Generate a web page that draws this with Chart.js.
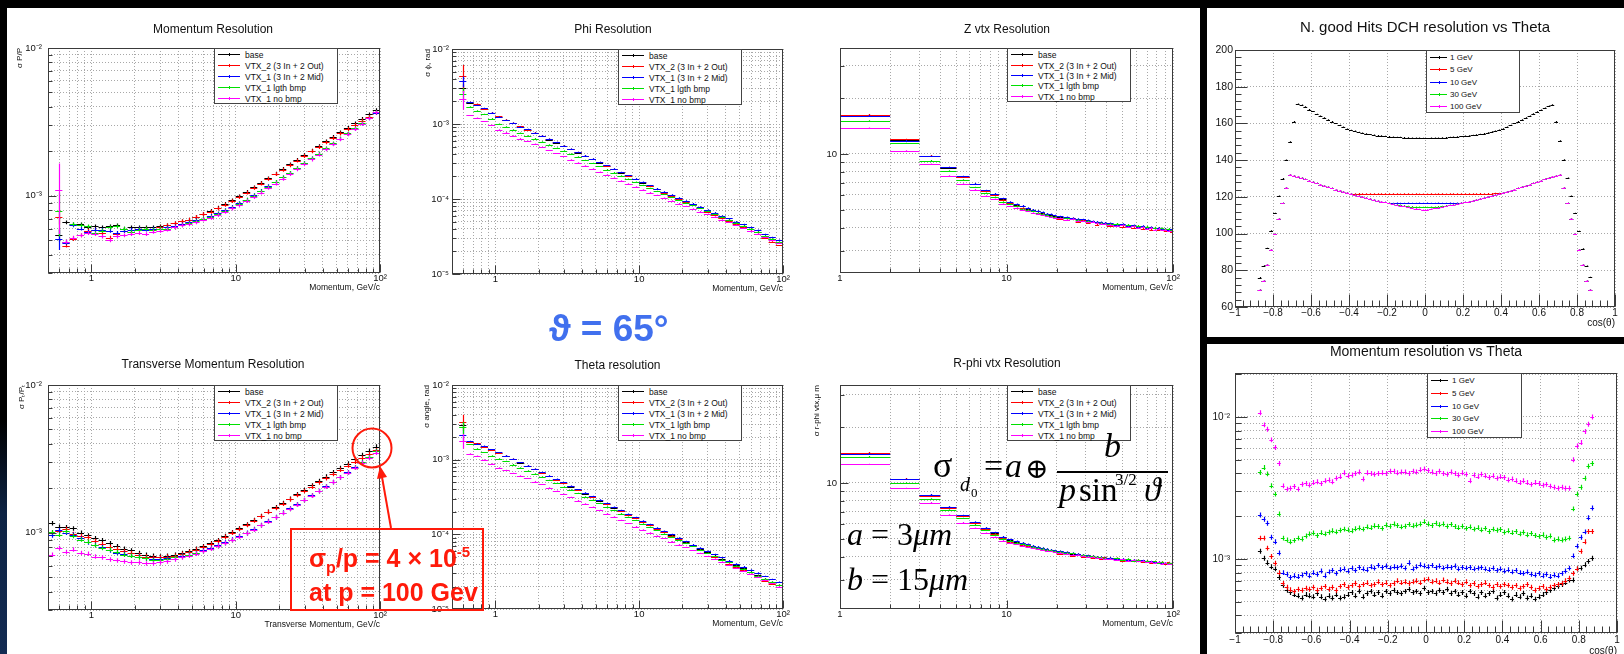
<!DOCTYPE html>
<html>
<head>
<meta charset="utf-8">
<title>Tracking resolution</title>
<script src="https://cdn.jsdelivr.net/npm/chart.js@4.4.1/dist/chart.umd.min.js"></script>
<style>
  html, body { margin: 0; padding: 0; background: #000; }
  #page { position: relative; width: 1624px; height: 654px; overflow: hidden; background: #000; font-family: "Liberation Sans", Arial, sans-serif; }
  .panel { position: absolute; background: #fff; z-index: 0; }
  canvas { position: absolute; z-index: 1; }
  .leg { position: absolute; background: #fff; border: 1px solid #444; box-sizing: border-box; z-index: 4; }
  .leg .ln { position: absolute; height: 1px; }
  .leg .tk { position: absolute; width: 1px; height: 3px; }
  .leg .lb { position: absolute; line-height: 1; white-space: nowrap; color: #111; transform: translateY(-50%); }
  .tx { position: absolute; line-height: 1; white-space: nowrap; font-family: "Liberation Serif", "DejaVu Serif", serif; color: #000; z-index: 5; }
  .note { position: absolute; line-height: 1; white-space: nowrap; font-family: "Liberation Sans", Arial, sans-serif; font-weight: bold; z-index: 5; }
</style>
</head>
<body>
<div id="page">
  <div style="position:absolute;left:0;top:420px;width:7px;height:234px;background:linear-gradient(#000,#0d2344 40%,#132b52)"></div>
  <div class="panel" style="left:7px;top:8px;width:1193px;height:646px"></div>
  <div class="panel" style="left:1207px;top:8px;width:417px;height:329px"></div>
  <div class="panel" style="left:1207px;top:344px;width:417px;height:310px"></div>

  <!-- slide annotations -->
  <div class="note" style="left:549px;top:310px;font-size:37px;color:#4170ee">ϑ = 65°</div>

  <div style="position:absolute;left:290px;top:528px;width:194px;height:83px;border:2px solid #ff1a0a;box-sizing:border-box;z-index:5"></div>
  <div class="note" style="left:309px;top:546px;font-size:25px;color:#ff1a0a">σ<span style="font-size:16px;position:relative;top:6px">p</span>/p = 4 × 10<span style="font-size:15px;position:relative;top:-10px">-5</span></div>
  <div class="note" style="left:309px;top:580px;font-size:25px;color:#ff1a0a">at p = 100 Gev</div>
  <svg style="position:absolute;left:0;top:0;z-index:5" width="1624" height="654">
    <circle cx="372" cy="448" r="19.5" fill="none" stroke="#ff1a0a" stroke-width="2"/>
    <line x1="391" y1="528" x2="382" y2="477" stroke="#ff1a0a" stroke-width="2"/>
    <polygon points="380,466 387,477 377,479" fill="#ff1a0a"/>
  </svg>

  <!-- d0 resolution formula -->
  <div class="tx" style="left:933px;top:447px;font-size:36px">σ</div>
  <div class="tx" style="left:960px;top:474px;font-size:20px;font-style:italic">d</div>
  <div class="tx" style="left:971px;top:486px;font-size:13px">0</div>
  <div class="tx" style="left:984px;top:449px;font-size:34px">=</div>
  <div class="tx" style="left:1005px;top:449px;font-size:34px;font-style:italic">a</div>
  <div class="tx" style="left:1025px;top:455px;font-size:28px">⊕</div>
  <div class="tx" style="left:1104px;top:429px;font-size:34px;font-style:italic">b</div>
  <div style="position:absolute;left:1057px;top:471px;width:111px;height:2px;background:#000;z-index:5"></div>
  <div class="tx" style="left:1059px;top:473px;font-size:34px;font-style:italic">p</div>
  <div class="tx" style="left:1079px;top:474px;font-size:33px">sin</div>
  <div class="tx" style="left:1115px;top:471px;font-size:17px">3/2</div>
  <div class="tx" style="left:1144px;top:473px;font-size:34px;font-style:italic">ϑ</div>
  <div class="tx" style="left:847px;top:518px;font-size:32px"><i>a</i> = 3<i>μm</i></div>
  <div class="tx" style="left:847px;top:563px;font-size:32px"><i>b</i> = 15<i>μm</i></div>
</div>

<script>
const FONT = '"Liberation Sans", Arial, sans-serif';
const GRID = '#a8a8a8';

// ---------- categories ----------
const seriesLabels = ['base', 'VTX_2 (3 In + 2 Out)', 'VTX_1 (3 In + 2 Mid)', 'VTX_1 lgth bmp', 'VTX_1 no bmp'];
const energyLabels = ['1 GeV', '5 GeV', '10 GeV', '30 GeV', '100 GeV'];
const rootColors = ['#000000', '#ff0000', '#0000ff', '#00e000', '#ff00ff'];

// momentum bins, GeV/c (log spaced)
const pEdges = [0.5, 0.561, 0.629, 0.706, 0.792, 0.889, 0.998, 1.12, 1.26, 1.41, 1.58, 1.78, 2.0, 2.24, 2.51, 2.82,
  3.16, 3.55, 3.98, 4.47, 5.01, 5.62, 6.31, 7.08, 7.94, 8.91, 10.0, 11.2, 12.6, 14.1, 15.8, 17.8, 20.0, 22.4, 25.1,
  28.2, 31.6, 35.5, 39.8, 44.7, 50.1, 56.2, 63.1, 70.8, 79.4, 89.1, 100];
// vertex plots bins, GeV/c
const vtxEdges = [1, 2, 3, 4, 5, 6, 7, 8, 9, 10, 11, 12, 13, 14, 15, 16, 17, 18, 19, 20, 22, 24, 26, 28, 30, 32, 34, 36,
  38, 40, 44, 48, 52, 56, 60, 64, 68, 72, 76, 80, 84, 88, 92, 96, 100];
// cos(theta) bin centres, bin width 0.02
const cosCenters = [-0.87, -0.85, -0.83, -0.81, -0.79, -0.77, -0.75, -0.73, -0.71, -0.69, -0.67, -0.65, -0.63, -0.61,
  -0.59, -0.57, -0.55, -0.53, -0.51, -0.49, -0.47, -0.45, -0.43, -0.41, -0.39, -0.37, -0.35, -0.33, -0.31, -0.29, -0.27,
  -0.25, -0.23, -0.21, -0.19, -0.17, -0.15, -0.13, -0.11, -0.09, -0.07, -0.05, -0.03, -0.01,
  0.01, 0.03, 0.05, 0.07, 0.09, 0.11, 0.13, 0.15, 0.17, 0.19, 0.21, 0.23, 0.25, 0.27, 0.29, 0.31, 0.33, 0.35, 0.37,
  0.39, 0.41, 0.43, 0.45, 0.47, 0.49, 0.51, 0.53, 0.55, 0.57, 0.59, 0.61, 0.63, 0.65, 0.67, 0.69, 0.71, 0.73, 0.75,
  0.77, 0.79, 0.81, 0.83, 0.85, 0.87];

// ---------- tick labels ----------
const pTickVals = [1, 10, 100];
const pTickText = ['1', '10', '10²'];
const resTickVals = [1e-5, 1e-4, 1e-3, 1e-2];
const resTickText = ['10⁻⁵', '10⁻⁴', '10⁻³', '10⁻²'];
const vtxTickVals = [10];
const vtxTickText = ['10'];

// ---------- Momentum Resolution, sigma P/P (x 1e-4) ----------
const momBase = [null, 5.4, 6.6, 6.4, 6.4, 6.1, 6.2, 6.1, 6.2, 6.3, 6.0, 6.1, 6.1, 6.1, 6.1, 6.2, 6.3, 6.5, 6.7, 6.9, 7.2, 7.5, 7.9, 8.3, 8.8, 9.3, 9.9, 10.6, 11.4, 12.2, 13.1, 14.1, 15.2, 16.3, 17.5, 18.8, 20.2, 21.7, 23.3, 25.0, 26.8, 28.8, 30.9, 33.1, 35.5, 38.0];
const momVtx2 = [null, 7.2, 4.6, 5.1, 5.4, 5.8, 5.9, 5.6, 5.2, 5.5, 5.8, 5.7, 6.0, 6.0, 5.9, 6.1, 6.3, 6.5, 6.7, 6.9, 7.2, 7.5, 7.8, 8.2, 8.7, 9.2, 9.8, 10.5, 11.3, 12.1, 13.0, 14.0, 15.0, 16.1, 17.3, 18.6, 20.0, 21.4, 23.0, 24.6, 26.4, 28.3, 30.2, 32.3, 34.3, 36.3];
const momVtx1 = [null, 5.1, 4.8, 6.3, 6.0, 5.7, 5.9, 5.9, 5.8, 5.6, 5.8, 5.9, 6.0, 5.9, 6.0, 6.0, 6.1, 6.2, 6.4, 6.6, 6.8, 7.0, 7.3, 7.6, 8.0, 8.4, 8.9, 9.4, 10.1, 10.8, 11.6, 12.4, 13.3, 14.3, 15.4, 16.6, 17.9, 19.3, 20.8, 22.4, 24.2, 26.2, 28.4, 30.8, 33.4, 36.5];
const momLgth = [null, 7.9, 4.9, 6.4, 6.3, 6.2, 5.6, 5.8, 6.1, 6.2, 6.0, 5.7, 5.9, 6.0, 5.9, 6.0, 6.0, 6.1, 6.3, 6.5, 6.7, 7.0, 7.2, 7.5, 7.9, 8.3, 8.8, 9.4, 10.0, 10.7, 11.5, 12.4, 13.3, 14.3, 15.4, 16.6, 17.9, 19.3, 20.9, 22.6, 24.4, 26.4, 28.6, 31.0, 33.6, 36.8];
const momNoBmp = [null, 11.0, 4.9, 5.2, 5.4, 5.6, 5.5, 5.3, 5.0, 5.3, 5.4, 5.5, 5.6, 5.5, 5.7, 5.8, 5.9, 6.1, 6.3, 6.4, 6.6, 6.9, 7.1, 7.4, 7.8, 8.2, 8.6, 9.2, 9.8, 10.5, 11.3, 12.1, 13.0, 14.0, 15.1, 16.3, 17.6, 19.0, 20.6, 22.3, 24.1, 26.1, 28.3, 30.7, 33.4, 36.6];
const momFirstErr = [0.5, 0.8, 0.8, 2.6, 5.5];

// ---------- Transverse Momentum Resolution, sigma Pt/Pt (x 1e-4) ----------
const ptBase = [11.6, 11.0, 10.9, 10.7, 10.0, 9.6, 9.2, 8.9, 8.5, 8.1, 7.8, 7.6, 7.3, 7.1, 7.0, 6.9, 7.0, 7.1, 7.3, 7.5, 7.8, 8.1, 8.5, 8.9, 9.5, 10.1, 10.7, 11.4, 12.2, 13.0, 13.9, 14.9, 15.9, 17.0, 18.2, 19.5, 20.9, 22.4, 24.0, 25.7, 27.5, 29.4, 31.4, 33.6, 35.9, 38.3];
const ptVtx2 = [10.0, 10.3, 10.6, 9.8, 9.5, 9.3, 8.8, 8.4, 8.0, 7.8, 7.5, 7.3, 7.1, 6.9, 6.8, 6.8, 6.9, 7.0, 7.2, 7.4, 7.7, 8.0, 8.4, 8.8, 9.4, 10.0, 10.6, 11.3, 12.1, 12.9, 13.8, 14.7, 15.7, 16.8, 18.0, 19.2, 20.5, 21.9, 23.4, 25.0, 26.7, 28.5, 30.3, 32.2, 34.2, 36.2];
const ptVtx1 = [9.6, 10.4, 10.0, 9.7, 9.2, 8.6, 8.3, 8.0, 7.6, 7.3, 7.2, 7.0, 6.9, 6.7, 6.6, 6.6, 6.7, 6.8, 7.0, 7.1, 7.3, 7.6, 7.9, 8.2, 8.6, 9.0, 9.5, 10.0, 10.6, 11.3, 12.0, 12.8, 13.7, 14.6, 15.6, 16.7, 17.9, 19.2, 20.6, 22.1, 23.8, 25.6, 27.7, 30.0, 32.6, 35.6];
const ptLgth = [10.1, 9.7, 10.2, 9.5, 9.0, 8.7, 8.2, 7.9, 7.7, 7.4, 7.1, 7.0, 6.8, 6.7, 6.5, 6.5, 6.6, 6.8, 6.9, 7.1, 7.3, 7.5, 7.8, 8.1, 8.5, 8.9, 9.4, 9.9, 10.5, 11.2, 11.9, 12.7, 13.6, 14.5, 15.5, 16.6, 17.8, 19.1, 20.5, 22.0, 23.7, 25.5, 27.6, 29.9, 32.5, 35.5];
const ptNoBmp = [7.1, 7.9, 7.4, 7.7, 7.3, 7.2, 6.9, 6.8, 6.6, 6.5, 6.4, 6.3, 6.3, 6.2, 6.2, 6.3, 6.4, 6.6, 6.8, 7.0, 7.2, 7.5, 7.8, 8.1, 8.5, 8.9, 9.4, 9.9, 10.5, 11.2, 11.9, 12.7, 13.6, 14.5, 15.5, 16.6, 17.8, 19.1, 20.5, 22.0, 23.7, 25.5, 27.5, 29.7, 32.1, 34.8];

// ---------- Phi Resolution, rad (x 1e-5) ----------
const phiBase = [null, 300, 190, 180, 160, 140, 124, 113, 102, 92, 84, 76, 69, 62, 56, 51, 46, 41.5, 37.5, 34, 30.5, 27.5, 25, 22.5, 20.3, 18.3, 16.5, 15, 13.6, 12.3, 11.2, 10.2, 9.3, 8.5, 7.7, 7.0, 6.4, 5.8, 5.3, 4.85, 4.4, 4.0, 3.65, 3.2, 2.9, 2.6];
const phiVtx2 = [null, 440, 195, 185, 158, 142, 126, 114, 103, 93, 84, 77, 70, 63, 57, 51, 46, 42, 38, 34, 30.8, 27.8, 25, 22.6, 20.4, 18.4, 16.6, 15, 13.5, 12.2, 11.0, 10.0, 9.1, 8.3, 7.5, 6.8, 6.2, 5.6, 5.1, 4.6, 4.2, 3.8, 3.45, 3.05, 2.7, 2.4];
const phiVtx1 = [null, 370, 195, 178, 162, 141, 125, 112, 103, 92, 85, 76, 70, 63, 57, 51, 46.5, 42, 38, 34.5, 31, 28, 25.3, 22.8, 20.6, 18.6, 16.8, 15.2, 13.8, 12.5, 11.4, 10.4, 9.5, 8.7, 7.9, 7.2, 6.6, 6.0, 5.5, 5.0, 4.6, 4.2, 3.85, 3.4, 3.1, 2.85];
const phiLgth = [null, 250, 170, 150, 135, 118, 100, 92, 84, 76, 70, 64, 58, 53, 48, 44, 40, 36.5, 33, 30, 27.2, 24.7, 22.5, 20.4, 18.5, 16.8, 15.3, 13.9, 12.7, 11.6, 10.6, 9.7, 8.9, 8.2, 7.5, 6.9, 6.3, 5.8, 5.3, 4.85, 4.4, 4.0, 3.65, 3.25, 2.95, 2.7];
const phiNoBmp = [null, 215, 130, 120, 108, 96, 84, 77, 70, 64, 59, 54, 49, 44.5, 40.5, 37, 33.5, 30.5, 27.8, 25.3, 23, 21, 19.2, 17.5, 16, 14.6, 13.3, 12.2, 11.2, 10.3, 9.5, 8.7, 8.0, 7.4, 6.8, 6.3, 5.8, 5.3, 4.9, 4.5, 4.1, 3.75, 3.45, 3.1, 2.8, 2.6];
const phiFirstErr = [40, 170, 60, 50, 60];

// ---------- Theta resolution, rad (x 1e-5) ----------
const thBase = [null, 290, 172, 162, 150, 135, 123, 112, 101, 91, 82, 74, 67, 60, 54, 48.5, 43.5, 39, 35, 31.5, 28.3, 25.4, 22.8, 20.5, 18.4, 16.5, 14.8, 13.3, 12.0, 10.8, 9.7, 8.8, 7.9, 7.1, 6.4, 5.8, 5.2, 4.7, 4.25, 3.85, 3.5, 3.15, 2.85, 2.55, 2.3, 2.1];
const thVtx2 = [null, 320, 175, 165, 150, 136, 124, 113, 102, 92, 83, 75, 67, 60, 54, 49, 44, 39.5, 35.5, 31.8, 28.5, 25.5, 22.9, 20.5, 18.4, 16.5, 14.8, 13.3, 11.9, 10.7, 9.6, 8.6, 7.7, 6.9, 6.2, 5.6, 5.0, 4.5, 4.05, 3.65, 3.3, 2.95, 2.65, 2.4, 2.15, 1.95];
const thVtx1 = [null, 215, 176, 164, 152, 137, 125, 113, 102, 92, 83, 75, 68, 61, 55, 49.5, 44.5, 40, 36, 32.3, 29, 26, 23.3, 21, 18.8, 16.9, 15.2, 13.7, 12.3, 11.1, 10.0, 9.0, 8.1, 7.3, 6.6, 6.0, 5.4, 4.9, 4.45, 4.05, 3.7, 3.35, 3.05, 2.75, 2.5, 2.3];
const thLgth = [null, 270, 160, 140, 125, 113, 103, 95, 86, 78, 71, 65, 59, 53, 48, 43.5, 39.5, 35.5, 32, 29, 26, 23.4, 21, 19, 17.1, 15.4, 13.9, 12.5, 11.3, 10.2, 9.3, 8.4, 7.6, 6.9, 6.2, 5.6, 5.1, 4.6, 4.2, 3.8, 3.45, 3.1, 2.8, 2.55, 2.3, 2.1];
const thNoBmp = [null, 180, 120, 112, 100, 88, 78, 72, 66, 61, 56, 51, 46.5, 42, 38, 34.5, 31.3, 28.3, 25.6, 23.2, 21, 19, 17.2, 15.5, 14, 12.7, 11.5, 10.5, 9.6, 8.8, 8.0, 7.3, 6.7, 6.1, 5.6, 5.1, 4.7, 4.3, 3.9, 3.55, 3.25, 2.95, 2.7, 2.45, 2.2, 2.0];
const thFirstErr = [30, 80, 40, 50, 40];

// ---------- Z vtx Resolution (um) ----------
const zBase = [16.2, 11.9, 9.76, 8.4, 7.54, 6.86, 6.33, 6.05, 5.69, 5.45, 5.3, 5.2, 5.05, 4.95, 4.9, 4.8, 4.75, 4.7, 4.62, 4.58, 4.52, 4.47, 4.42, 4.4, 4.35, 4.3, 4.28, 4.25, 4.22, 4.2, 4.17, 4.15, 4.1, 4.08, 4.06, 4.05, 4.02, 4.0, 3.98, 3.97, 3.95, 3.93, 3.92, 3.9];
const zVtx2 = [16.3, 12.0, 9.8, 8.45, 7.5, 6.85, 6.3, 6.0, 5.65, 5.4, 5.25, 5.1, 5.0, 4.92, 4.82, 4.75, 4.65, 4.6, 4.55, 4.45, 4.4, 4.5, 4.3, 4.38, 4.25, 4.3, 4.15, 4.24, 4.2, 4.1, 4.15, 4.05, 4.12, 3.98, 4.05, 3.95, 4.02, 3.9, 3.96, 3.88, 3.95, 3.85, 3.9, 3.8];
const zVtx1 = [16.1, 11.8, 9.7, 8.45, 7.55, 6.9, 6.35, 6.1, 5.75, 5.5, 5.35, 5.25, 5.1, 5.0, 4.92, 4.85, 4.75, 4.72, 4.65, 4.6, 4.55, 4.5, 4.45, 4.42, 4.38, 4.33, 4.3, 4.27, 4.25, 4.22, 4.15, 4.18, 4.1, 4.12, 4.05, 4.08, 4.0, 4.02, 3.98, 3.99, 3.94, 3.95, 3.9, 3.92];
const zLgth = [15.1, 11.4, 9.2, 8.1, 7.24, 6.6, 6.13, 5.83, 5.5, 5.35, 5.2, 5.05, 4.98, 4.9, 4.8, 4.72, 4.68, 4.6, 4.55, 4.5, 4.48, 4.42, 4.4, 4.35, 4.33, 4.28, 4.25, 4.24, 4.2, 4.18, 4.2, 4.12, 4.15, 4.08, 4.1, 4.02, 4.05, 3.98, 4.0, 3.95, 3.97, 3.92, 3.94, 3.9];
const zNoBmp = [13.8, 10.4, 8.8, 7.6, 6.88, 6.4, 5.93, 5.69, 5.37, 5.2, 5.1, 5.0, 4.9, 4.8, 4.74, 4.66, 4.6, 4.55, 4.5, 4.48, 4.4, 4.45, 4.35, 4.33, 4.28, 4.3, 4.22, 4.2, 4.18, 4.15, 4.08, 4.12, 4.02, 4.06, 3.98, 4.02, 3.95, 3.98, 3.9, 3.94, 3.86, 3.9, 3.84, 3.85];

// ---------- R-phi vtx Resolution (um) ----------
const rpBase = [14.5, 10.5, 8.61, 7.39, 6.63, 6.1, 5.69, 5.35, 5.09, 4.92, 4.8, 4.72, 4.62, 4.55, 4.48, 4.43, 4.38, 4.34, 4.3, 4.26, 4.2, 4.15, 4.12, 4.08, 4.05, 4.02, 3.99, 3.96, 3.94, 3.92, 3.89, 3.86, 3.84, 3.82, 3.8, 3.78, 3.77, 3.75, 3.73, 3.72, 3.71, 3.7, 3.69, 3.68];
const rpVtx2 = [14.6, 10.55, 8.55, 7.35, 6.6, 6.05, 5.65, 5.3, 5.02, 4.82, 4.72, 4.6, 4.55, 4.45, 4.42, 4.35, 4.32, 4.28, 4.22, 4.15, 4.22, 4.05, 4.1, 3.98, 4.06, 3.95, 4.0, 3.9, 3.96, 3.86, 3.92, 3.8, 3.86, 3.76, 3.83, 3.72, 3.8, 3.7, 3.76, 3.68, 3.74, 3.66, 3.72, 3.66];
const rpVtx1 = [14.4, 10.45, 8.65, 7.42, 6.68, 6.15, 5.72, 5.4, 5.12, 4.95, 4.85, 4.75, 4.66, 4.58, 4.52, 4.46, 4.4, 4.36, 4.32, 4.28, 4.22, 4.18, 4.13, 4.1, 4.06, 4.03, 4.0, 3.98, 3.95, 3.94, 3.88, 3.9, 3.84, 3.85, 3.79, 3.81, 3.75, 3.77, 3.72, 3.74, 3.69, 3.71, 3.66, 3.68];
const rpLgth = [13.9, 10.0, 8.2, 7.15, 6.44, 5.95, 5.55, 5.25, 5.0, 4.88, 4.76, 4.68, 4.6, 4.52, 4.46, 4.42, 4.36, 4.32, 4.28, 4.25, 4.2, 4.16, 4.1, 4.08, 4.03, 4.02, 3.97, 3.96, 3.92, 3.9, 3.92, 3.85, 3.88, 3.8, 3.83, 3.76, 3.79, 3.73, 3.76, 3.7, 3.73, 3.68, 3.7, 3.67];
const rpNoBmp = [12.6, 9.36, 7.83, 6.71, 6.1, 5.69, 5.35, 5.09, 4.88, 4.75, 4.65, 4.58, 4.5, 4.44, 4.38, 4.34, 4.3, 4.26, 4.22, 4.2, 4.15, 4.1, 4.08, 4.03, 4.0, 3.98, 3.94, 3.93, 3.9, 3.88, 3.84, 3.86, 3.8, 3.82, 3.76, 3.79, 3.72, 3.75, 3.7, 3.72, 3.66, 3.69, 3.64, 3.66];

// ---------- N. good Hits DCH vs cos(theta) ----------
const hits1 = [76, 82.5, 92, 101.5, 111, 120.5, 130, 140, 150, 161, 170.5, 170, 169, 167.5, 166.5, 165, 164, 163, 162, 161, 160, 159, 158, 157, 156.3, 155.8, 155.2, 154.8, 154.4, 154, 153.7, 153.4, 153.2, 153, 152.8, 152.6, 152.5, 152.4, 152.3, 152.2, 152.1, 152, 152, 151.9,
  151.8, 152, 152.1, 152.1, 152.2, 152.3, 152.5, 152.6, 152.7, 152.9, 153.1, 153.3, 153.5, 153.8, 154.1, 154.5, 154.9, 155.4, 155.9, 156.4, 157.1, 158, 159, 160, 161, 162, 163, 164, 165.2, 166.3, 167.3, 168.4, 169.4, 170.2, 161, 150.5, 140.2, 130.3, 120.4, 111, 101.3, 91.7, 82.3, 76.2];
const hits5 = [69.3, 74.3, 83, 91.2, 99.6, 108, 116.5, 125, 132, 131.5, 131, 130.2, 129.5, 128.8, 128.1, 127.4, 126.7, 126, 125.3, 124.7, 124, 123.4, 122.8, 122.2, 121.8, 121.7, 121.8, 121.7, 121.6, 121.7, 121.7, 121.6, 121.7, 121.6, 121.6, 121.7, 121.6, 121.5, 121.6, 121.6, 121.5, 121.6, 121.5, 121.5,
  121.5, 121.6, 121.5, 121.6, 121.6, 121.5, 121.6, 121.7, 121.6, 121.6, 121.7, 121.6, 121.7, 121.7, 121.8, 121.7, 121.8, 121.8, 121.9, 121.9, 122.2, 122.8, 123.4, 124, 124.7, 125.3, 126, 126.7, 127.4, 128.1, 128.8, 129.5, 130.2, 131, 131.5, 132, 125, 116.5, 108, 99.6, 91.2, 83, 74.3, 69.3];
const hits10 = [69.3, 74.3, 83, 91.2, 99.6, 108, 116.5, 125, 132, 131.5, 131, 130.2, 129.5, 128.8, 128.1, 127.4, 126.7, 126, 125.3, 124.7, 124, 123.4, 122.8, 122.2, 121.6, 121, 120.5, 120, 119.4, 118.9, 118.4, 117.9, 117.4, 117, 116.5, 116.5, 116.6, 116.5, 116.5, 116.6, 116.5, 116.5, 116.6, 116.5,
  116.6, 116.5, 116.5, 116.6, 116.5, 116.5, 116.6, 116.5, 116.6, 116.7, 117, 117.4, 117.9, 118.4, 118.9, 119.4, 120, 120.5, 121, 121.6, 122.2, 122.8, 123.4, 124, 124.7, 125.3, 126, 126.7, 127.4, 128.1, 128.8, 129.5, 130.2, 131, 131.5, 132, 125, 116.5, 108, 99.6, 91.2, 83, 74.3, 69.3];
const hits30 = [69.3, 74.3, 83, 91.2, 99.6, 108, 116.5, 125, 132, 131.5, 131, 130.2, 129.5, 128.8, 128.1, 127.4, 126.7, 126, 125.3, 124.7, 124, 123.4, 122.8, 122.2, 121.6, 121, 120.5, 120, 119.4, 118.9, 118.4, 117.9, 117.4, 117, 116.6, 116.2, 115.8, 115.5, 115.2, 114.9, 114.7, 114.5, 114.4, 114.3,
  114.3, 114.4, 114.5, 114.7, 114.9, 115.2, 115.5, 115.8, 116.2, 116.6, 117, 117.4, 117.9, 118.4, 118.9, 119.4, 120, 120.5, 121, 121.6, 122.2, 122.8, 123.4, 124, 124.7, 125.3, 126, 126.7, 127.4, 128.1, 128.8, 129.5, 130.2, 131, 131.5, 132, 125, 116.5, 108, 99.6, 91.2, 83, 74.3, 69.3];
const hits100 = [69.3, 74.3, 83, 91.2, 99.6, 108, 116.5, 125, 132, 131.5, 131, 130.2, 129.5, 128.8, 128.1, 127.4, 126.7, 126, 125.3, 124.7, 124, 123.4, 122.8, 122.2, 121.6, 121, 120.5, 120, 119.4, 118.9, 118.4, 117.9, 117.4, 117, 116.5, 116.1, 115.6, 115.2, 114.8, 114.4, 114, 113.6, 113.2, 112.8,
  112.9, 113.3, 113.7, 114.1, 114.5, 114.9, 115.3, 115.7, 116.1, 116.6, 117, 117.4, 117.9, 118.4, 118.9, 119.4, 120, 120.5, 121, 121.6, 122.2, 122.8, 123.4, 124, 124.7, 125.3, 126, 126.7, 127.4, 128.1, 128.8, 129.5, 130.2, 131, 131.5, 132, 125, 116.5, 108, 99.6, 91.2, 83, 74.3, 69.3];

// ---------- Momentum resolution vs cos(theta) (x 1e-4) ----------
const mres1 = [11.3, 10.1, 9.4, 8.8, 8.5, 7.4, 6.5, 6.0, 5.8, 5.6, 5.5, 5.3, 5.6, 5.5, 5.4, 5.7, 5.4, 5.2, 5.5, 5.3, 5.6, 5.3, 5.4, 5.6, 5.8, 5.5, 5.9, 5.4, 5.7, 5.9, 5.6, 5.8, 5.5, 5.9, 5.7, 6.0, 5.8, 5.7, 5.9, 6.1, 5.8, 5.9, 5.7, 6.2,
  5.8, 5.9, 5.7, 6.0, 5.8, 6.1, 5.7, 5.9, 5.6, 5.8, 5.5, 5.9, 5.7, 5.4, 5.8, 5.5, 5.7, 5.9, 5.3, 5.6, 5.8, 5.5, 5.2, 5.6, 5.4, 5.7, 5.3, 5.5, 5.2, 5.4, 5.6, 5.8, 6.0, 6.2, 6.4, 6.6, 6.8, 7.1, 7.1, 8.5, 8.6, 9.1, 9.6, 10.1];
const mres5 = [14, 14, 11.9, 10.4, 9.3, 8.0, 6.7, 6.3, 6.05, 5.9, 6.1, 6.0, 6.2, 6.1, 6.3, 6.0, 6.2, 6.4, 6.1, 6.3, 6.0, 6.4, 6.6, 6.3, 6.5, 6.7, 6.4, 6.6, 6.8, 6.5, 6.6, 6.9, 6.6, 6.8, 6.5, 6.7, 7.0, 6.8, 6.9, 6.7, 6.9, 7.0, 6.8, 7.1,
  7.2, 6.9, 7.0, 6.8, 7.1, 6.9, 6.7, 7.0, 6.8, 6.6, 6.9, 6.5, 6.7, 6.4, 6.6, 6.8, 6.5, 6.3, 6.6, 6.4, 6.6, 6.5, 6.3, 6.5, 6.2, 6.4, 6.6, 6.3, 6.0, 6.2, 6.4, 6.1, 6.3, 6.5, 6.6, 6.7, 7.0, 7.3, 7.9, 8.5, 11.3, 13.2, 15.6, 15.6];
const mres10 = [20.4, 19, 17.8, 14.2, 13.2, 11, 8.0, 7.8, 7.4, 7.6, 7.5, 7.7, 7.9, 7.6, 8.0, 7.8, 8.2, 7.6, 8.1, 8.3, 7.9, 8.4, 8.5, 8.2, 8.6, 8.3, 8.7, 8.5, 8.4, 8.8, 8.6, 9.0, 8.7, 8.9, 8.6, 8.8, 8.7, 8.9, 8.6, 9.4, 8.5, 8.8, 9.1, 8.9,
  8.8, 9.0, 8.7, 8.9, 8.6, 8.8, 8.7, 8.9, 8.5, 8.7, 8.6, 8.7, 8.5, 8.6, 8.7, 8.5, 8.4, 8.6, 8.3, 8.5, 8.2, 8.4, 8.1, 8.3, 8.0, 7.9, 8.1, 7.8, 7.7, 7.9, 7.6, 7.8, 7.5, 7.7, 7.6, 7.9, 8.2, 8.6, 10.5, 12.3, 14.2, 15.5, 19.5, 22.8];
const mres30 = [40.6, 44, 39.7, 32.8, 28.6, 20.7, 14, 13.6, 13.2, 13.5, 14, 13.8, 14.5, 15, 15.2, 14.6, 15.3, 15, 15.4, 15.8, 15.5, 15.9, 16.2, 16.0, 15.8, 16.3, 16.5, 16.2, 16.8, 16.6, 17.1, 16.9, 16.4, 17.3, 17.0, 17.6, 17.2, 16.8, 17.0, 17.5, 17.1, 17.3, 17.6, 18.3,
  17.6, 17.2, 17.8, 17.4, 17.6, 17.0, 17.5, 16.9, 16.6, 17.0, 16.4, 16.8, 16.2, 16.6, 16.0, 16.4, 15.6, 16.2, 15.9, 16.1, 15.4, 15.8, 15.3, 15.6, 15.0, 15.4, 14.8, 15.1, 14.6, 14.4, 14.8, 14.2, 14.5, 13.6, 13.8, 13.6, 13.8, 14.0, 22.5, 28.6, 32, 37, 45, 47];
const mres100 = [107, 88, 82, 69, 61, 47, 32.7, 31, 31.5, 32.4, 31, 33.6, 34, 33.2, 34.5, 35, 34, 35.5, 36, 35, 37, 38, 40.5, 38.5, 39, 40, 41, 36.5, 40.5, 40, 39.5, 40, 40.5, 40, 41.5, 41.5, 40.5, 41, 41, 40, 41.5, 41, 42.5, 43,
  42, 41, 40, 41.5, 40, 39.5, 41, 40, 39, 40.5, 39.5, 35.5, 39, 38, 39.5, 38.5, 37.5, 38.5, 37, 38, 37.5, 36, 36.5, 35.5, 34.5, 35.5, 34.5, 33.5, 34.5, 34, 33, 33.5, 32.5, 32, 31.5, 32, 31.5, 31.5, 50, 62.5, 66, 79, 89, 100];

// ---------- helpers ----------
function logGrid(min, max) {
  // grid / tick positions 1..9 x 10^n inside the axis range
  const out = [];
  for (let e = Math.floor(Math.log10(min)); e <= Math.ceil(Math.log10(max)); e++) {
    for (let m = 1; m <= 9; m++) {
      const v = m * Math.pow(10, e);
      if (v >= min * 0.9999 && v <= max * 1.0001) out.push(v);
    }
  }
  return out;
}

function binPoints(edges, vals, unit, rel, bigErr) {
  const pts = [];
  let first = true;
  vals.forEach((v, i) => {
    if (v == null) return;
    const lo = edges[i], hi = edges[i + 1], y = v * unit;
    const e = (first && bigErr != null) ? bigErr * unit : y * rel;
    first = false;
    pts.push({ x: (lo + hi) / 2, y: y, xl: lo, xh: hi, yl: Math.max(y - e, y * 0.05), yh: y + e });
  });
  return pts;
}

function cosPoints(vals, unit, rel, abs) {
  return vals.map((v, i) => {
    const c = cosCenters[i], y = v * unit;
    const e = abs != null ? abs : y * rel;
    return { x: c, y: y, xl: c - 0.01, xh: c + 0.01, yl: y - e, yh: y + e };
  });
}

function logAxis(min, max, tv, tt, pad, fs) {
  const grid = logGrid(min, max);
  return {
    type: 'logarithmic', min: min, max: max,
    afterBuildTicks: s => { s.ticks = grid.map(v => ({ value: v })); },
    ticks: {
      autoSkip: false, maxRotation: 0, padding: pad, color: '#111', font: { size: fs },
      callback: v => { const i = tv.findIndex(t => Math.abs(v / t - 1) < 1e-6); return i < 0 ? '' : tt[i]; }
    },
    grid: { color: GRID, drawTicks: false },
    border: { display: false, dash: [1, 2] }
  };
}

function linAxis(min, max, step, pad, fs, fmt) {
  return {
    type: 'linear', min: min, max: max,
    ticks: { stepSize: step, autoSkip: false, maxRotation: 0, padding: pad, color: '#111', font: { size: fs }, callback: fmt },
    grid: { color: GRID, drawTicks: false },
    border: { display: false, dash: [1, 2] }
  };
}

function cosLabel(v) {
  if (Math.abs(v) < 1e-9) return '0';
  const s = String(Math.round(Math.abs(v) * 10) / 10);
  return (v < 0 ? '−' : '') + s;
}

// error bars the ROOT way: bin-wide horizontal bar + vertical error
const rootMarks = {
  id: 'rootMarks',
  afterDatasetsDraw(chart) {
    const { ctx, chartArea: a } = chart;
    const xs = chart.scales.x, ys = chart.scales.y;
    ctx.save();
    ctx.beginPath();
    ctx.rect(a.left, a.top, a.right - a.left, a.bottom - a.top);
    ctx.clip();
    ctx.lineWidth = 1.2;
    chart.data.datasets.forEach(ds => {
      ctx.strokeStyle = ds.borderColor;
      ctx.beginPath();
      ds.data.forEach(p => {
        const y = Math.round(ys.getPixelForValue(p.y)) + 0.5;
        const x = Math.round(xs.getPixelForValue(p.x)) + 0.5;
        ctx.moveTo(xs.getPixelForValue(p.xl), y);
        ctx.lineTo(xs.getPixelForValue(p.xh), y);
        ctx.moveTo(x, ys.getPixelForValue(p.yh));
        ctx.lineTo(x, ys.getPixelForValue(p.yl));
      });
      ctx.stroke();
    });
    ctx.restore();
  }
};

// frame + inner tick marks
const rootFrame = {
  id: 'rootFrame',
  afterDraw(chart, args, opts) {
    const { ctx, chartArea: a } = chart;
    const xs = chart.scales.x, ys = chart.scales.y;
    const L = Math.round(a.left) + 0.5, R = Math.round(a.right) - 0.5;
    const T = Math.round(a.top) + 0.5, B = Math.round(a.bottom) - 0.5;
    ctx.save();
    ctx.strokeStyle = '#3a3a3a';
    ctx.lineWidth = 1;
    ctx.strokeRect(L, T, R - L, B - T);
    ctx.beginPath();
    xs.ticks.forEach(t => {
      const px = Math.round(xs.getPixelForValue(t.value)) + 0.5;
      const len = t.label ? opts.major : opts.minor;
      ctx.moveTo(px, B); ctx.lineTo(px, B - len);
    });
    ys.ticks.forEach(t => {
      const py = Math.round(ys.getPixelForValue(t.value)) + 0.5;
      const len = t.label ? opts.major : opts.minor;
      ctx.moveTo(L, py); ctx.lineTo(L + len, py);
    });
    if (opts.xMinor) {
      for (let i = 0; xs.min + i * opts.xMinor <= xs.max + 1e-9; i++) {
        const px = Math.round(xs.getPixelForValue(xs.min + i * opts.xMinor)) + 0.5;
        ctx.moveTo(px, B); ctx.lineTo(px, B - opts.minor);
      }
    }
    if (opts.yMinor) {
      for (let i = 0; ys.min + i * opts.yMinor <= ys.max + 1e-9; i++) {
        const py = Math.round(ys.getPixelForValue(ys.min + i * opts.yMinor)) + 0.5;
        ctx.moveTo(L, py); ctx.lineTo(L + opts.minor, py);
      }
    }
    ctx.stroke();
    ctx.restore();
  }
};

const page = document.getElementById('page');

function addLegend(box, labels, fs, lineLen, gap) {
  const [l, t, w, h] = box;
  const div = document.createElement('div');
  div.className = 'leg';
  div.style.cssText = 'left:' + l + 'px;top:' + t + 'px;width:' + w + 'px;height:' + h + 'px';
  labels.forEach((txt, i) => {
    const cy = Math.round((i + 0.5) * (h - 2) / labels.length);
    const ln = document.createElement('div');
    ln.className = 'ln';
    ln.style.cssText = 'left:3px;top:' + cy + 'px;width:' + lineLen + 'px;background:' + rootColors[i];
    const tk = document.createElement('div');
    tk.className = 'tk';
    tk.style.cssText = 'left:' + (3 + lineLen / 2) + 'px;top:' + (cy - 1) + 'px;background:' + rootColors[i];
    const lb = document.createElement('div');
    lb.className = 'lb';
    lb.style.cssText = 'left:' + (3 + lineLen + gap) + 'px;top:' + (cy + 0.5) + 'px;font-size:' + fs + 'px';
    lb.textContent = txt;
    div.appendChild(ln); div.appendChild(tk); div.appendChild(lb);
  });
  page.appendChild(div);
}

function makeChart(d) {
  const cv = document.createElement('canvas');
  const [l, t, w, h] = d.box;
  cv.width = w; cv.height = h;
  cv.style.left = l + 'px'; cv.style.top = t + 'px';
  page.appendChild(cv);

  const xScale = d.x;
  xScale.afterFit = s => { s.height = d.xH; };
  xScale.title = { display: true, text: d.xTitle, align: 'end', color: '#111', font: { size: d.xTitleSize }, padding: { top: 0, bottom: d.xTitlePad } };
  const yScale = d.y;
  yScale.afterFit = s => { s.width = d.yW; };
  yScale.title = { display: !!d.yTitle, text: d.yTitle || '', align: 'end', color: '#111', font: { size: 8 }, padding: { top: d.yTitlePad || 0, bottom: 0 } };

  new Chart(cv, {
    type: 'scatter',
    data: {
      datasets: d.points.map((pts, i) => ({
        label: d.labels[i], data: pts,
        borderColor: rootColors[i], backgroundColor: rootColors[i],
        pointRadius: 0, pointHoverRadius: 0, showLine: false
      }))
    },
    options: {
      responsive: false, animation: false, events: [],
      layout: { padding: 0 },
      plugins: {
        legend: { display: false }, tooltip: { enabled: false },
        title: {
          display: true, text: d.title, color: '#111',
          font: { size: d.titleSize, weight: 'normal', lineHeight: 1.2 },
          padding: { top: d.tT, bottom: d.tB }
        },
        rootFrame: { major: d.major, minor: d.minor, xMinor: d.xMinor, yMinor: d.yMinor }
      },
      scales: {
        x: xScale,
        y: yScale,
        pad: {
          type: 'linear', position: 'right', display: true,
          grid: { display: false, drawTicks: false }, border: { display: false }, ticks: { display: false },
          afterFit: s => { s.width = d.rW; }
        }
      }
    },
    plugins: [rootMarks, rootFrame]
  });
  addLegend(d.legend, d.labels, d.legendFont, d.legendLine, d.legendGap);
}

Chart.defaults.font.family = FONT;
Chart.defaults.color = '#111';

const leftCommon = { titleSize: 12, xTitleSize: 8.5, xTitlePad: 7, xH: 27, major: 8, minor: 4, labels: seriesLabels, legendFont: 8.5, legendLine: 22, legendGap: 5 };

const plots = [
  Object.assign({}, leftCommon, {
    box: [7, 8, 412, 292], yW: 41, rW: 39, tT: 14.8, tB: 10.8, yTitlePad: 8.2,
    title: 'Momentum Resolution', xTitle: 'Momentum, GeV/c', yTitle: 'σ P/P',
    x: logAxis(0.5, 100, pTickVals, pTickText, 0, 9.5), y: logAxis(3e-4, 1e-2, resTickVals, resTickText, 6, 9.5),
    points: [momBase, momVtx2, momVtx1, momLgth, momNoBmp].map((s, i) => binPoints(pEdges, s, 1e-4, 0.03, momFirstErr[i])),
    legend: [214, 48, 124, 56]
  }),
  Object.assign({}, leftCommon, {
    box: [420, 8, 386, 293], yW: 32, rW: 23, tT: 14.8, tB: 11.8, yTitlePad: 3.2,
    title: 'Phi Resolution', xTitle: 'Momentum, GeV/c', yTitle: 'σ ϕ, rad',
    x: logAxis(0.5, 100, pTickVals, pTickText, 0, 9.5), y: logAxis(1e-5, 1e-2, resTickVals, resTickText, 3, 9.5),
    points: [phiBase, phiVtx2, phiVtx1, phiLgth, phiNoBmp].map((s, i) => binPoints(pEdges, s, 1e-5, 0.015, phiFirstErr[i])),
    legend: [618, 49, 124, 56]
  }),
  Object.assign({}, leftCommon, {
    box: [812, 8, 390, 292], yW: 28, rW: 29, tT: 14.8, tB: 10.8,
    title: 'Z vtx Resolution', xTitle: 'Momentum, GeV/c', yTitle: '',
    x: logAxis(1, 100, pTickVals, pTickText, 0, 9.5), y: logAxis(2.27, 37.4, vtxTickVals, vtxTickText, 3, 9.5),
    points: [zBase, zVtx2, zVtx1, zLgth, zNoBmp].map(s => binPoints(vtxEdges, s, 1, 0.008)),
    legend: [1007, 48, 124, 54]
  }),
  Object.assign({}, leftCommon, {
    box: [7, 300, 412, 337], yW: 41, rW: 39, tT: 57.8, tB: 12.8, yTitlePad: 10.2,
    title: 'Transverse Momentum Resolution', xTitle: 'Transverse Momentum, GeV/c', yTitle: 'σ Pₜ/Pₜ',
    x: logAxis(0.5, 100, pTickVals, pTickText, 0, 9.5), y: logAxis(3e-4, 1e-2, resTickVals, resTickText, 6, 9.5),
    points: [ptBase, ptVtx2, ptVtx1, ptLgth, ptNoBmp].map(s => binPoints(pEdges, s, 1e-4, 0.035)),
    legend: [214, 385, 124, 56]
  }),
  Object.assign({}, leftCommon, {
    box: [420, 300, 395, 336], yW: 32, rW: 32, tT: 58.8, tB: 11.8, yTitlePad: 2.2,
    title: 'Theta resolution', xTitle: 'Momentum, GeV/c', yTitle: 'σ angle, rad',
    x: logAxis(0.5, 100, pTickVals, pTickText, 0, 9.5), y: logAxis(1e-5, 1e-2, resTickVals, resTickText, 3, 9.5),
    points: [thBase, thVtx2, thVtx1, thLgth, thNoBmp].map((s, i) => binPoints(pEdges, s, 1e-5, 0.015, thFirstErr[i])),
    legend: [618, 385, 124, 56]
  }),
  Object.assign({}, leftCommon, {
    box: [812, 300, 390, 336], yW: 28, rW: 29, tT: 56.8, tB: 13.8, yTitlePad: 0.2,
    title: 'R-phi vtx Resolution', xTitle: 'Momentum, GeV/c', yTitle: 'σ r-phi vtx,μ m',
    x: logAxis(1, 100, pTickVals, pTickText, 0, 9.5), y: logAxis(2.08, 33.9, vtxTickVals, vtxTickText, 3, 9.5),
    points: [rpBase, rpVtx2, rpVtx1, rpLgth, rpNoBmp].map(s => binPoints(vtxEdges, s, 1, 0.008)),
    legend: [1007, 385, 124, 56]
  }),
  {
    box: [1207, 8, 436, 329], yW: 28, rW: 28, tT: 11, tB: 13, xH: 30, titleSize: 15,
    title: 'N. good Hits DCH resolution vs Theta', xTitle: 'cos(θ)', xTitleSize: 10, xTitlePad: 8, yTitle: '',
    x: linAxis(-1, 1, 0.2, 0, 10, cosLabel), y: linAxis(60, 200, 20, 2, 10.5, v => String(v)),
    major: 12, minor: 6, xMinor: 0.04, yMinor: 4,
    labels: energyLabels,
    points: [hits1, hits5, hits10, hits30, hits100].map(s => cosPoints(s, 1, 0, 0.3)),
    legend: [1426, 50, 94, 63], legendFont: 8, legendLine: 17, legendGap: 3
  },
  {
    box: [1207, 343, 438, 315], yW: 28, rW: 28, tT: 0.6, tB: 12.6, xH: 25, titleSize: 14,
    title: 'Momentum resolution vs Theta', xTitle: 'cos(θ)', xTitleSize: 10, xTitlePad: 1, yTitle: '',
    x: linAxis(-1, 1, 0.2, 1, 10, cosLabel), y: logAxis(3e-4, 2.04e-2, resTickVals, resTickText, 5, 10),
    major: 12, minor: 6, xMinor: 0.04,
    labels: energyLabels,
    points: [mres1, mres5, mres10, mres30, mres100].map(s => cosPoints(s, 1e-4, 0.04)),
    legend: [1427, 373, 95, 65], legendFont: 8, legendLine: 17, legendGap: 4
  }
];

plots.forEach(makeChart);
</script>
</body>
</html>
